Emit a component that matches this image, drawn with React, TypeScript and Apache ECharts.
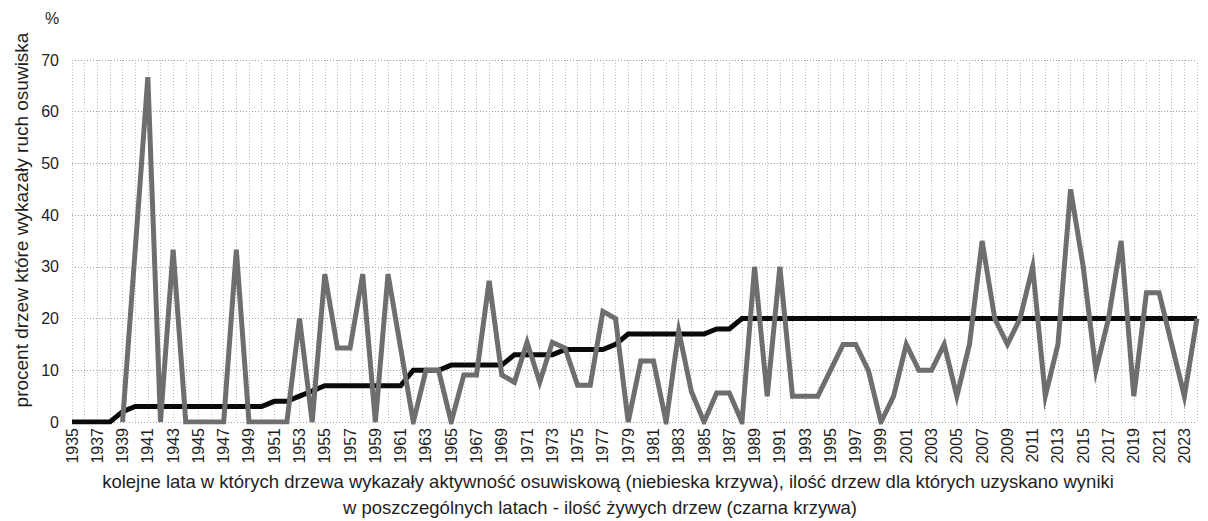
import React, { useEffect, useRef } from "react";
import * as echarts from "echarts";

const years: string[] = [
  "1935","1936","1937","1938","1939","1940","1941","1942","1943","1944",
  "1945","1946","1947","1948","1949","1950","1951","1952","1953","1954",
  "1955","1956","1957","1958","1959","1960","1961","1962","1963","1964",
  "1965","1966","1967","1968","1969","1970","1971","1972","1973","1974",
  "1975","1976","1977","1978","1979","1980","1981","1982","1983","1984",
  "1985","1986","1987","1988","1989","1990","1991","1992","1993","1994",
  "1995","1996","1997","1998","1999","2000","2001","2002","2003","2004",
  "2005","2006","2007","2008","2009","2010","2011","2012","2013","2014",
  "2015","2016","2017","2018","2019","2020","2021","2022","2023","2024",
];

// number of trees with results (black curve)
const treeCount: number[] = [
  0, 0, 0, 0, 2, 3, 3, 3, 3, 3,
  3, 3, 3, 3, 3, 3, 4, 4, 5, 6,
  7, 7, 7, 7, 7, 7, 7, 10, 10, 10,
  11, 11, 11, 11, 11, 13, 13, 13, 13, 14,
  14, 14, 14, 15, 17, 17, 17, 17, 17, 17,
  17, 18, 18, 20, 20, 20, 20, 20, 20, 20,
  20, 20, 20, 20, 20, 20, 20, 20, 20, 20,
  20, 20, 20, 20, 20, 20, 20, 20, 20, 20,
  20, 20, 20, 20, 20, 20, 20, 20, 20, 20,
];

// percent of trees showing landslide movement (grey curve)
const activePercent: (number | null)[] = [
  null, null, null, null, 0, 33.3, 66.7, 0, 33.3, 0,
  0, 0, 0, 33.3, 0, 0, 0, 0, 20, 0,
  28.6, 14.3, 14.3, 28.6, 0, 28.6, 14.3, 0, 10, 10,
  0, 9.1, 9.1, 27.3, 9.1, 7.7, 15.4, 7.7, 15.4, 14.3,
  7.1, 7.1, 21.4, 20, 0, 11.8, 11.8, 0, 17.6, 5.9,
  0, 5.6, 5.6, 0, 30, 5, 30, 5, 5, 5,
  10, 15, 15, 10, 0, 5, 15, 10, 10, 15,
  5, 15, 35, 20, 15, 20, 30, 5, 15, 45,
  30, 10, 20, 35, 5, 25, 25, 15, 5, 20,
];

const yTicks = { min: 0, max: 70, interval: 10 };

const FONT = "'Liberation Sans', Arial, sans-serif";
const TEXT = "#1e1e1e";

export default function App() {
  const ref = useRef<HTMLDivElement>(null);

  useEffect(() => {
    document.body.style.margin = "0";
    if (!ref.current) return;
    const chart = echarts.init(ref.current, undefined, { renderer: "svg" });
    chart.setOption({
      animation: false,
      backgroundColor: "#ffffff",
      grid: { left: 72, right: 11, top: 60, bottom: 99, containLabel: false },
      xAxis: {
        type: "category",
        data: years,
        boundaryGap: false,
        axisLine: { show: false },
        axisTick: { show: false, interval: 0 },
        axisLabel: {
          interval: 1,
          rotate: 90,
          margin: 6,
          fontSize: 16,
          fontFamily: FONT,
          color: TEXT,
        },
        splitLine: {
          show: true,
          interval: 0,
          lineStyle: { color: "#b8b8b8", width: 1, type: [1, 2] },
        },
      },
      yAxis: {
        type: "value",
        min: yTicks.min,
        max: yTicks.max,
        interval: yTicks.interval,
        axisLine: { show: false },
        axisTick: { show: false },
        axisLabel: {
          margin: 13,
          fontSize: 16,
          fontFamily: FONT,
          color: TEXT,
        },
        splitLine: {
          show: true,
          lineStyle: { color: "#a0a0a0", width: 1, type: [1, 2] },
        },
      },
      series: [
        {
          name: "ilość drzew",
          type: "line",
          data: treeCount,
          symbol: "none",
          z: 2,
          lineStyle: { color: "#0a0a0a", width: 5, join: "miter", miterLimit: 6 },
        },
        {
          name: "procent drzew",
          type: "line",
          data: activePercent,
          symbol: "none",
          connectNulls: false,
          z: 3,
          lineStyle: { color: "#6e6e6e", width: 5, join: "miter", miterLimit: 6 },
        },
      ],
      graphic: [
        {
          type: "text",
          x: 52,
          y: 18,
          style: {
            text: "%",
            fontSize: 16,
            fontFamily: FONT,
            fill: TEXT,
            align: "center",
            verticalAlign: "middle",
          },
        },
        {
          type: "text",
          x: 21,
          y: 220,
          rotation: Math.PI / 2,
          style: {
            text: "procent drzew które wykazały ruch osuwiska",
            fontSize: 19,
            fontFamily: FONT,
            fill: TEXT,
            align: "center",
            verticalAlign: "middle",
          },
        },
        {
          type: "text",
          x: 608,
          y: 481,
          style: {
            text:
              "kolejne lata w których drzewa wykazały aktywność osuwiskową (niebieska krzywa), ilość drzew dla których uzyskano wyniki",
            fontSize: 18.5,
            fontFamily: FONT,
            fill: TEXT,
            align: "center",
            verticalAlign: "middle",
          },
        },
        {
          type: "text",
          x: 600,
          y: 507,
          style: {
            text: "w poszczególnych latach - ilość żywych drzew (czarna krzywa)",
            fontSize: 18.5,
            fontFamily: FONT,
            fill: TEXT,
            align: "center",
            verticalAlign: "middle",
          },
        },
      ],
    });
    return () => chart.dispose();
  }, []);

  return (
    <div
      ref={ref}
      style={{ position: "fixed", left: 0, top: 0, width: 1208, height: 521 }}
    />
  );
}
